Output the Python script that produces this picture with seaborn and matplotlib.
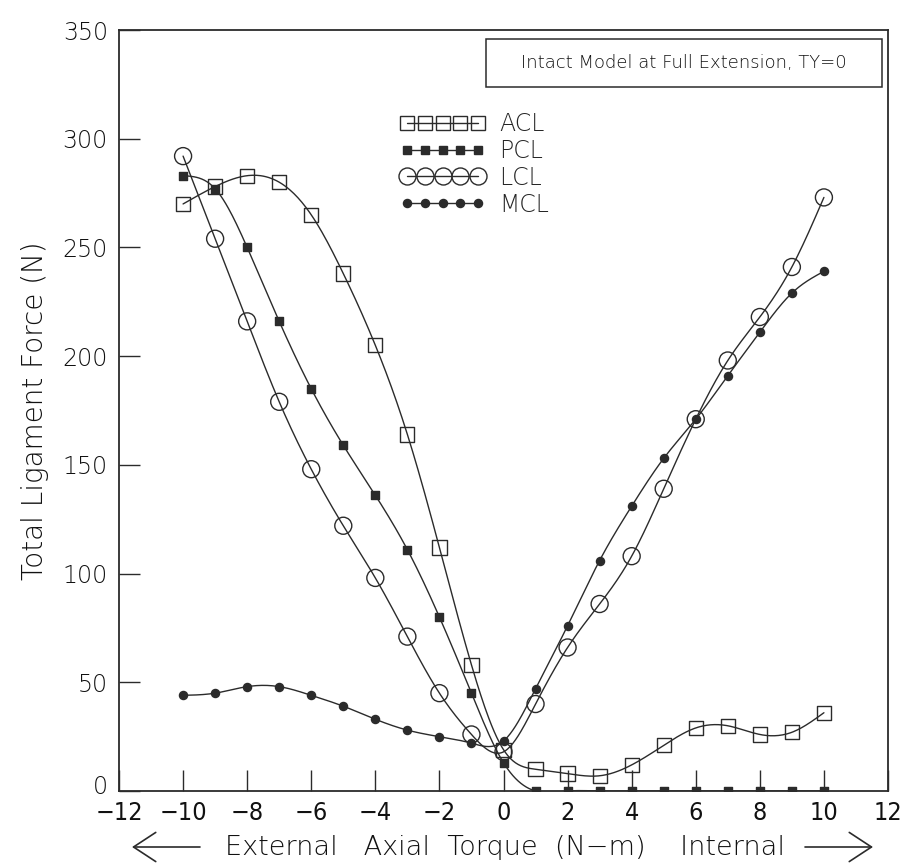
import numpy as np
import pandas as pd
import seaborn as sns
import matplotlib.pyplot as plt
import matplotlib.transforms as mtransforms
from matplotlib.lines import Line2D
from matplotlib.patches import FancyArrowPatch, Rectangle

# ---- data ----
torque = [-10, -9, -8, -7, -6, -5, -4, -3, -2, -1, 0, 1, 2, 3, 4, 5, 6, 7, 8, 9, 10]
acl = [270, 278, 283, 280, 265, 238, 205, 164, 112, 58, 19, 10, 8, 7, 12, 21, 29, 30, 26, 27, 36]
pcl = [283, 277, 250, 216, 185, 159, 136, 111, 80, 45, 13, 0, 0, 0, 0, 0, 0, 0, 0, 0, 0]
lcl = [292, 254, 216, 179, 148, 122, 98, 71, 45, 26, 18, 40, 66, 86, 108, 139, 171, 198, 218, 241, 273]
mcl = [44, 45, 48, 48, 44, 39, 33, 28, 25, 22, 23, 47, 76, 106, 131, 153, 171, 191, 211, 229, 239]
series_names = ["ACL", "PCL", "LCL", "MCL"]
x_ticks = [-12, -10, -8, -6, -4, -2, 0, 2, 4, 6, 8, 10, 12]
y_ticks = [0, 50, 100, 150, 200, 250, 300, 350]
note_text = "Intact Model at Full Extension, TY=0"


def natural_spline(x, y, per=24):
    x = np.asarray(x, float)
    y = np.asarray(y, float)
    n = len(x)
    h = np.diff(x)
    A = np.zeros((n, n))
    b = np.zeros(n)
    A[0, 0] = 1
    A[-1, -1] = 1
    for i in range(1, n - 1):
        A[i, i - 1] = h[i - 1]
        A[i, i] = 2 * (h[i - 1] + h[i])
        A[i, i + 1] = h[i]
        b[i] = 6 * ((y[i + 1] - y[i]) / h[i] - (y[i] - y[i - 1]) / h[i - 1])
    M = np.linalg.solve(A, b)
    xs, ys = [], []
    for i in range(n - 1):
        t = np.linspace(x[i], x[i + 1], per, endpoint=(i == n - 2))
        a = x[i + 1] - t
        c = t - x[i]
        s = (M[i] * a ** 3 + M[i + 1] * c ** 3) / (6 * h[i]) \
            + (y[i] / h[i] - M[i] * h[i] / 6) * a \
            + (y[i + 1] / h[i] - M[i + 1] * h[i] / 6) * c
        xs.append(t)
        ys.append(s)
    return np.concatenate(xs), np.concatenate(ys)


sns.set_theme(style="white")
plt.rcParams["font.family"] = ["DejaVu Sans"]

W, H = 906, 866
fig = plt.figure(figsize=(W / 100, H / 100), dpi=100)
ax_l, ax_r, ax_t, ax_b = 119, 888, 30, 791
ax = fig.add_axes([ax_l / W, (H - ax_b) / H, (ax_r - ax_l) / W, (ax_b - ax_t) / H])

lc = "#2b2b2b"
styles = {
    "ACL": dict(marker="s", s=105, hollow=True),
    "PCL": dict(marker="s", s=34, hollow=False),
    "LCL": dict(marker="o", s=150, hollow=True),
    "MCL": dict(marker="o", s=34, hollow=False),
}
data = {"ACL": acl, "PCL": pcl, "LCL": lcl, "MCL": mcl}

for name in series_names:
    vals = data[name]
    xs, ys = natural_spline(torque, vals)
    sns.lineplot(x=xs, y=ys, ax=ax, color=lc, lw=1.0, sort=False,
                 estimator=None, legend=False)
    st = styles[name]
    sns.scatterplot(x=torque, y=vals, ax=ax, marker=st["marker"], s=st["s"],
                    color=lc, edgecolor=lc, linewidth=1.0, legend=False, zorder=3)
    if st["hollow"]:
        ax.collections[-1].set_facecolor("none")

ax.set_xlim(-12, 12)
ax.set_ylim(0, 350)
ax.set_xticks(x_ticks)
ax.set_yticks(y_ticks)
ax.set_xticklabels([str(t).replace("-", "\u2212") for t in x_ticks],
                   fontsize=18, fontstretch="condensed", fontweight="light")
ax.set_yticklabels([str(t) for t in y_ticks], fontsize=17, fontweight="light")
ax.tick_params(axis="x", direction="in", length=15, width=1.0, color=lc,
               pad=7, bottom=True, top=False, labelcolor="#111")
ax.tick_params(axis="y", direction="in", length=15, width=1.0, color=lc,
               pad=8, left=True, right=False, labelcolor="#111")
for sp in ax.spines.values():
    sp.set_color(lc)
    sp.set_linewidth(1.3)
# lift the "0" of the y axis slightly so it clears the "-12" below it
zero_lbl = ax.get_yticklabels()[0]
zero_lbl.set_transform(zero_lbl.get_transform() +
                       mtransforms.ScaledTranslation(0, 5 / 72, fig.dpi_scale_trans))

ax.set_xlabel("")
ax.set_ylabel("Total Ligament Force (N)", fontsize=20, fontweight="light",
              color="#111", labelpad=10)


def ax_x(px):
    return (px - ax_l) / (ax_r - ax_l)


def ax_y(py):
    return (ax_b - py) / (ax_b - ax_t)


# annotation box
bx0, bx1, by0, by1 = 486, 882, 39, 87
ax.add_patch(Rectangle((ax_x(bx0), ax_y(by1)), ax_x(bx1) - ax_x(bx0),
                       ax_y(by0) - ax_y(by1), transform=ax.transAxes,
                       fill=False, ec=lc, lw=1.1, zorder=4))
ax.text(ax_x((bx0 + bx1) / 2), ax_y((by0 + by1) / 2), note_text,
        transform=ax.transAxes, ha="center", va="center", fontsize=13,
        fontweight="light", color="#111", zorder=5)

# legend
handles = []
for name in series_names:
    st = styles[name]
    ms = np.sqrt(st["s"])
    handles.append(Line2D([], [], color=lc, lw=1.0, marker=st["marker"],
                          markersize=ms,
                          markerfacecolor="none" if st["hollow"] else lc,
                          markeredgecolor=lc, markeredgewidth=1.0))
ax.legend(handles, series_names, loc="upper left",
          bbox_to_anchor=(ax_x(400), ax_y(112)),
          frameon=False, numpoints=5, handlelength=3.6, handletextpad=0.6,
          labelspacing=0.12, borderpad=0, borderaxespad=0,
          prop=dict(size=17, weight="light"))

# x axis caption with arrows
cy = (H - 847) / H
fig.text((212 + 798) / 2 / W, cy,
         "External   Axial  Torque  (N\u2212m)    Internal",
         ha="center", va="center", fontsize=19.5, fontweight="light", color="#111")
for x0, x1 in [(200, 132), (805, 873)]:
    fig.patches.append(FancyArrowPatch(
        (x0 / W, cy), (x1 / W, cy), transform=fig.transFigure,
        arrowstyle="->,head_length=1.6,head_width=1.05", mutation_scale=10,
        shrinkA=0, shrinkB=0, lw=1.2, color=lc))

fig.savefig("out.png", dpi=100, facecolor="white")
